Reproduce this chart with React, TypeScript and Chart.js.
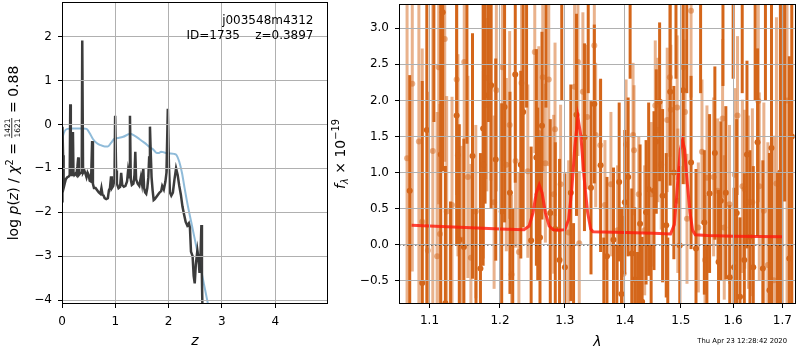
import React, { useEffect, useRef } from "react";
import { Chart, registerables } from "chart.js";
Chart.register(...registerables);

const FAMILY = "'DejaVu Sans', 'Liberation Sans', sans-serif";
const MINUS = "\u2212";

// ---------------- left panel: p(z) ----------------
const zGrid = [
  0.0, 0.008, 0.02, 0.03, 0.05, 0.07, 0.1, 0.13, 0.145, 0.155, 0.165, 0.19, 0.205, 0.215, 0.23, 0.25,
  0.27, 0.29, 0.305, 0.315, 0.335, 0.355, 0.37, 0.38, 0.395, 0.42, 0.44, 0.46, 0.48, 0.5, 0.52, 0.545,
  0.565, 0.58, 0.6, 0.63, 0.66, 0.69, 0.72, 0.74, 0.76, 0.78, 0.8, 0.83, 0.86, 0.88, 0.9, 0.92,
  0.935, 0.96, 0.985, 0.997, 1.015, 1.03, 1.06, 1.09, 1.11, 1.13, 1.16, 1.19, 1.22, 1.24, 1.26, 1.275,
  1.29, 1.31, 1.34, 1.36, 1.375, 1.39, 1.42, 1.45, 1.48, 1.5, 1.525, 1.54, 1.56, 1.58, 1.6, 1.62,
  1.635, 1.65, 1.665, 1.68, 1.7, 1.72, 1.74, 1.77, 1.8, 1.83, 1.86, 1.88, 1.91, 1.94, 1.96, 1.985,
  2.005, 2.025, 2.05, 2.08, 2.11, 2.14, 2.17, 2.2, 2.23, 2.26, 2.29, 2.32, 2.35, 2.38, 2.4, 2.42,
  2.45, 2.47, 2.49, 2.51, 2.54, 2.56, 2.58, 2.6, 2.615, 2.625, 2.64,
];
const logPz = [
  -1.75, -0.05, -0.7, -1.45, -1.35, -1.25, -1.2, -1.18, -1.15, 0.46, -1.15, -1.15, -0.17, -1.1, -1.15, -1.12,
  -1.15, -0.95, -0.75, -1.15, -1.12, -1.1, -1.1, 1.91, -1.1, -1.05, -1.12, -1.2, -1.1, -1.15, -1.28, -1.3,
  -0.38, -1.35, -1.45, -1.45, -1.5, -1.55, -1.58, -1.45, -1.6, -1.62, -1.68, -1.7, -1.68, -1.5, -1.45, -1.18,
  -1.45, -1.4, -1.25, 0.2, -1.05, -1.35, -1.45, -1.42, -1.1, -1.38, -1.42, -1.4, -1.3, -1.05, -1.2, 0.2,
  -1.25, -1.38, -1.35, -1.15, -0.62, -1.25, -1.35, -1.4, -1.2, -1.35, -1.0, -1.45, -1.55, -1.58, -1.45, -1.2,
  -0.75, -0.05, -0.65, -1.2, -1.5, -1.72, -1.7, -1.65, -1.6, -1.55, -1.52, -1.4, -1.48, -1.3, -1.1, 0.36,
  -0.9, -1.55, -1.62, -1.55, -1.25, -1.0, -1.15, -1.4, -1.6, -1.87, -2.05, -2.22, -2.3, -2.25, -2.35, -2.9,
  -3.0, -3.45, -3.62, -3.2, -2.87, -3.05, -3.38, -2.9, -2.29, -3.5, -4.6,
];
const zPrior = [
  0.0, 0.02, 0.05, 0.1, 0.2, 0.3, 0.4, 0.46, 0.52, 0.58, 0.65, 0.72, 0.8, 0.86, 0.92, 0.98,
  1.05, 1.15, 1.22, 1.28, 1.35, 1.45, 1.55, 1.65, 1.72, 1.78, 1.82, 1.86, 1.92, 2.0, 2.1, 2.15,
  2.2, 2.25, 2.3, 2.36, 2.42, 2.48, 2.54, 2.6, 2.66, 2.72, 2.78,
];
const logPrior = [
  -0.4, -0.25, -0.15, -0.1, -0.09, -0.09, -0.09, -0.1, -0.2, -0.33, -0.42, -0.47, -0.5, -0.5, -0.42, -0.33,
  -0.31, -0.28, -0.24, -0.21, -0.25, -0.33, -0.42, -0.52, -0.58, -0.65, -0.65, -0.62, -0.64, -0.66, -0.67, -0.7,
  -0.85, -1.1, -1.45, -1.85, -2.2, -2.55, -2.9, -3.25, -3.62, -3.98, -4.35,
];
const zTicks = [0, 1, 2, 3, 4];
const logPTicks = [-4, -3, -2, -1, 0, 1, 2];
const zRange = [0, 4.99];
const logPRange = [-4.09, 2.79];

// ---------------- right panel: spectrum ----------------
const lamDark = [
  1.0902, 1.0964, 1.1154, 1.1181, 1.1218, 1.1375, 1.1412, 1.1477, 1.16, 1.1714, 1.1753, 1.1781, 1.1869, 1.1937, 1.2025, 1.2068,
  1.2148, 1.2228, 1.2312, 1.2348, 1.247, 1.2551, 1.2572, 1.2607, 1.2638, 1.2768, 1.2847, 1.2915, 1.3001, 1.3096, 1.3188, 1.3318,
  1.3426, 1.3481, 1.3586, 1.3693, 1.3804, 1.3901, 1.3941, 1.3998, 1.4056, 1.4119, 1.4171, 1.4264, 1.43, 1.437, 1.4416, 1.4511,
  1.4552, 1.4612, 1.4666, 1.4732, 1.4804, 1.4871, 1.498, 1.5042, 1.519, 1.5283, 1.5441, 1.5541, 1.5643, 1.5714, 1.5759, 1.5856,
  1.5933, 1.6018, 1.607, 1.6136, 1.6222, 1.6275, 1.6335, 1.6402, 1.6489, 1.6597, 1.6733, 1.6775, 1.7148,
  1.0735, 1.106, 1.129, 1.152, 1.165, 1.183, 1.219, 1.24, 1.27, 1.295, 1.314, 1.338, 1.364, 1.386, 1.409, 1.422,
  1.446, 1.476, 1.491, 1.511, 1.537, 1.549, 1.58, 1.6, 1.618, 1.644, 1.665, 1.69, 1.696, 1.705, 1.72,
];
const fluxDark = [
  -0.53, 1.59, 1.25, 3.22, -0.81, 1.79, 0.07, -0.03, 1.23, -0.33, 1.61, 2.07, 2.21, 1.18, 0.46, 1.91,
  0.72, 2.36, 1.11, 1.84, 0.06, 1.21, 0.7, 0.1, 1.65, 0.44, 0.22, -0.21, -0.31, 0.72, 1.8, 1.49,
  0.79, 1.95, 1.1, -0.16, 0.07, 0.87, -0.68, 0.59, 0.94, -0.12, -0.48, 0.29, -0.79, 0.45, 0.77, 0.75,
  1.43, 1.98, 0.68, 0.27, 2.12, 1.0, -0.01, 2.14, 1.14, -0.05, 0.31, 0.71, 1.27, -0.24, 0.61, 0.72,
  -0.45, -0.31, 0.44, -0.72, -0.21, 1.25, 0.11, -0.31, 1.42, -0.33, -0.63, 1.34, -0.19,
  0.75, 3.9, -1.2, 3.7, -1.1, 3.6, -1.0, 3.6, 3.5, 3.5, -1.0, 3.5, -1.0, -1.1, 3.5, -1.0,
  -1.0, -1.0, 3.5, 3.5, 3.5, -1.0, 3.5, 3.5, 3.5, 3.5, 3.8, -1.2, 1.0, 3.5, 1.5,
];
const errDark = [
  2.8, 2.6, 2.4, 2.2, 1.9, 1.8, 1.6, 1.5, 1.7, 1.6, 1.9, 1.5, 1.7, 1.4, 1.5, 1.6,
  1.4, 1.5, 1.3, 1.6, 1.3, 1.5, 1.2, 1.4, 1.3, 1.3, 1.2, 1.4, 1.3, 1.5, 1.4, 1.3,
  1.2, 1.1, 1.2, 1.1, 1.0, 1.1, 1.2, 1.0, 1.1, 0.9, 1.0, 1.1, 0.9, 1.0, 1.2, 1.1,
  1.0, 1.1, 1.2, 1.0, 1.3, 1.2, 1.1, 1.3, 1.2, 1.1, 1.0, 1.1, 1.2, 1.0, 1.1, 1.2,
  1.0, 1.1, 1.3, 1.1, 1.2, 1.3, 1.2, 1.4, 1.3, 1.5, 1.9, 2.2, 2.8,
  1.6, 2.2, 1.8, 2.3, 1.6, 1.9, 1.5, 1.7, 1.6, 1.5, 1.3, 1.4, 1.1, 1.1, 1.2, 0.9,
  1.0, 1.1, 1.2, 1.4, 1.4, 1.0, 1.3, 1.2, 1.4, 1.5, 1.8, 2.2, 3.0, 2.9, 3.0,
];
const lamLight = [
  1.0769, 1.0857, 1.0902, 1.0978, 1.1045, 1.1104, 1.1126, 1.1144, 1.1209, 1.1236, 1.131, 1.1375, 1.1393, 1.144, 1.1482, 1.1534,
  1.1577, 1.1647, 1.1757, 1.1791, 1.1806, 1.1864, 1.1913, 1.1946, 1.2035, 1.2094, 1.2144, 1.2173, 1.2233, 1.2283, 1.2323, 1.2419,
  1.2526, 1.2588, 1.265, 1.2691, 1.2744, 1.2822, 1.2843, 1.2932, 1.3061, 1.3157, 1.3211, 1.3233, 1.3292, 1.3362, 1.3481, 1.3504,
  1.3581, 1.3659, 1.376, 1.3872, 1.3976, 1.402, 1.4141, 1.4158, 1.4241, 1.4345, 1.4463, 1.4534, 1.4582, 1.4641, 1.475, 1.4798,
  1.4816, 1.4932, 1.4944, 1.5047, 1.5078, 1.5114, 1.519, 1.5327, 1.5396, 1.5454, 1.5491, 1.5619, 1.5696, 1.5793, 1.5825, 1.5928,
  1.6033, 1.6086, 1.6184, 1.623, 1.6304, 1.6384, 1.6504, 1.6524, 1.6618, 1.67, 1.6823, 1.6878,
  1.07, 1.7, 1.71,
];
const fluxLight = [
  2.23, 1.43, 0.32, -0.08, 1.3, -0.16, 2.46, 0.15, 2.85, 0.46, 0.55, 2.29, 1.24, 0.07, 2.53, 0.94,
  -0.18, 0.46, 1.11, 2.31, 1.94, 2.19, 0.59, 2.14, 2.46, 1.11, 1.66, -0.41, 1.16, -0.1, 2.24, 1.02,
  2.67, 1.55, 2.32, 1.13, 2.29, 0.7, 1.6, 0.84, 0.17, 2.19, 2.53, 0.02, 2.12, 1.77, 2.76, 1.52,
  1.38, 0.55, 0.84, 0.2, -0.4, 1.39, 1.52, 1.31, 0.7, 0.2, 0.7, 1.93, 1.59, 1.11, 1.73, 2.32,
  1.87, 1.9, 0.61, 2.46, 1.84, 0.36, 3.24, 0.24, 1.29, -0.21, 0.93, 0.94, 0.75, 1.75, 0.24, 0.56,
  0.97, 1.79, 0.81, 0.77, 0.59, 0.59, 1.99, 0.81, 0.47, -0.28, -0.49, 0.85,
  1.2, 1.5, 2.0,
];
const errLight = [
  2.6, 2.5, 2.4, 2.2, 2.2, 2.0, 1.9, 1.8, 1.7, 1.6, 1.5, 1.6, 1.4, 1.3, 1.5, 1.4,
  1.3, 1.2, 1.3, 1.4, 1.2, 1.3, 1.2, 1.4, 1.3, 1.2, 1.3, 1.1, 1.2, 1.1, 1.3, 1.2,
  1.4, 1.2, 1.3, 1.1, 1.2, 1.1, 1.2, 1.1, 1.0, 1.2, 1.3, 1.0, 1.1, 1.0, 1.2, 1.0,
  0.9, 0.9, 1.0, 0.9, 0.8, 0.9, 1.0, 0.9, 0.8, 0.9, 1.0, 0.9, 1.0, 0.9, 1.0, 1.1,
  0.9, 1.0, 1.0, 1.1, 1.0, 0.9, 1.2, 0.9, 1.0, 0.9, 1.0, 1.1, 1.0, 1.1, 1.0, 1.1,
  1.2, 1.1, 1.2, 1.1, 1.2, 1.3, 1.4, 1.3, 1.5, 1.7, 2.0, 2.3,
  2.6, 3.0, 3.0,
];
const lamModel = [
  1.0759, 1.1, 1.15, 1.2, 1.236, 1.244, 1.25, 1.255, 1.2595, 1.264, 1.269, 1.275, 1.281, 1.29, 1.3, 1.306,
  1.311, 1.316, 1.321, 1.326, 1.331, 1.337, 1.342, 1.346, 1.4, 1.45, 1.481, 1.488, 1.494, 1.499, 1.503, 1.507,
  1.512, 1.517, 1.522, 1.527, 1.55, 1.6, 1.65, 1.7015,
];
const fluxModel = [
  0.27, 0.26, 0.24, 0.22, 0.21, 0.26, 0.45, 0.72, 0.83, 0.72, 0.45, 0.26, 0.21, 0.2, 0.21, 0.35,
  0.75, 1.35, 1.77, 1.5, 0.95, 0.45, 0.22, 0.18, 0.17, 0.16, 0.15, 0.28, 0.85, 1.32, 1.45, 1.32,
  0.85, 0.45, 0.2, 0.14, 0.13, 0.12, 0.115, 0.11,
];
const lamTicks = [1.1, 1.2, 1.3, 1.4, 1.5, 1.6, 1.7];
const fluxTicks = [-0.5, 0.0, 0.5, 1.0, 1.5, 2.0, 2.5, 3.0];
const lamRange = [1.0594, 1.729];
const fluxRange = [-0.82, 3.335];

const fieldName = "j003548m4312";
const idLine = "ID=1735    z=0.3897";
const timestamp = "Thu Apr 23 12:28:42 2020";

const DARK = "rgb(212,102,26)";
const LIGHT = "rgba(212,102,26,0.5)";

const fmt = (v: number, d: number) => (v < 0 ? MINUS : "") + Math.abs(v).toFixed(d);
const font = (style: string, size: number) => `${style} ${size}px ${FAMILY}`;

type Piece = { t?: string; f: string; dy?: number; frac?: [string, string] };

function drawRich(ctx: CanvasRenderingContext2D, pieces: Piece[], cx: number, cy: number, rot: number) {
  ctx.save();
  ctx.translate(cx, cy);
  ctx.rotate(rot);
  ctx.fillStyle = "#000";
  ctx.textBaseline = "alphabetic";
  const widths = pieces.map((p) => {
    ctx.font = p.f;
    if (p.frac) return Math.max(ctx.measureText(p.frac[0]).width, ctx.measureText(p.frac[1]).width) + 2;
    return ctx.measureText(p.t || "").width;
  });
  const total = widths.reduce((a, b) => a + b, 0);
  let x = -total / 2;
  pieces.forEach((p, i) => {
    ctx.font = p.f;
    const w = widths[i];
    if (p.frac) {
      ctx.textAlign = "center";
      ctx.fillText(p.frac[0], x + w / 2, -8.3);
      ctx.fillText(p.frac[1], x + w / 2, 1.5);
      ctx.fillRect(x + 0.5, -6.9, w - 1, 0.8);
      ctx.textAlign = "left";
    } else {
      ctx.textAlign = "left";
      ctx.fillText(p.t || "", x, p.dy || 0);
    }
    x += w;
  });
  ctx.restore();
}

function drawFrame(chart: any) {
  const { ctx, chartArea: a } = chart;
  ctx.save();
  ctx.strokeStyle = "#000";
  ctx.lineWidth = 1;
  ctx.strokeRect(a.left + 0.5, a.top + 0.5, a.right - a.left - 1, a.bottom - a.top - 1);
  ctx.restore();
}

const noPad = (s: any) => {
  s.paddingTop = 0;
  s.paddingBottom = 0;
  s.paddingLeft = 0;
  s.paddingRight = 0;
};

const tickFont = { family: FAMILY, size: 12 };
const gridOpts = { color: "#b0b0b0", lineWidth: 1, tickLength: 4, tickColor: "#000", drawTicks: true, z: 1 };

const leftDecor = {
  id: "leftDecor",
  afterDraw(chart: any) {
    drawFrame(chart);
    const ctx = chart.ctx as CanvasRenderingContext2D;
    ctx.save();
    ctx.fillStyle = "#000";
    ctx.font = font("normal", 12);
    ctx.textAlign = "right";
    ctx.textBaseline = "alphabetic";
    ctx.fillText(fieldName, 313.5, 23.5);
    ctx.fillText(idLine, 313.5, 38.5);
    ctx.font = font("italic", 14);
    ctx.textAlign = "center";
    const a = chart.chartArea;
    ctx.fillText("z", (a.left + a.right) / 2, 345);
    ctx.restore();
    const n = font("normal", 14);
    const it = font("italic", 14);
    drawRich(
      ctx,
      [
        { t: "log ", f: n },
        { t: "p", f: it },
        { t: "(", f: n },
        { t: "z", f: it },
        { t: ") / ", f: n },
        { t: "\u03c7", f: it },
        { t: "2", f: font("normal", 9.8), dy: -5.5 },
        { t: " = ", f: n },
        { frac: ["1421", "1621"], f: font("normal", 7.5) },
        { t: " = 0.88", f: n },
      ],
      18.3,
      (a.top + a.bottom) / 2,
      -Math.PI / 2
    );
  },
};

const rightDecor = {
  id: "rightDecor",
  beforeDatasetDraw(chart: any, args: any) {
    const ds = chart.data.datasets[args.index];
    if (!ds.errors) return;
    const { ctx, chartArea: a, scales } = chart;
    const xs = scales.x;
    const ys = scales.y;
    ctx.save();
    ctx.beginPath();
    ctx.rect(a.left, a.top, a.right - a.left, a.bottom - a.top);
    ctx.clip();
    ctx.strokeStyle = ds.errColor;
    ctx.lineWidth = 3;
    ds.data.forEach((p: any, j: number) => {
      const e = ds.errors[j];
      const px = xs.getPixelForValue(p.x);
      ctx.beginPath();
      ctx.moveTo(px, ys.getPixelForValue(p.y - e));
      ctx.lineTo(px, ys.getPixelForValue(p.y + e));
      ctx.stroke();
    });
    ctx.restore();
  },
  afterDatasetsDraw(chart: any) {
    const { ctx, chartArea: a, scales } = chart;
    const y0 = scales.y.getPixelForValue(0);
    ctx.save();
    ctx.strokeStyle = "#000";
    ctx.lineWidth = 1.5;
    ctx.setLineDash([1.5, 2.5]);
    ctx.beginPath();
    ctx.moveTo(a.left, y0);
    ctx.lineTo(a.right, y0);
    ctx.stroke();
    ctx.restore();
  },
  afterDraw(chart: any) {
    drawFrame(chart);
    const ctx = chart.ctx as CanvasRenderingContext2D;
    const a = chart.chartArea;
    ctx.save();
    ctx.fillStyle = "#000";
    ctx.font = font("italic", 14);
    ctx.textAlign = "center";
    ctx.textBaseline = "alphabetic";
    ctx.fillText("\u03bb", (a.left + a.right) / 2, 345.5);
    ctx.font = font("normal", 6.8);
    ctx.textAlign = "right";
    ctx.fillText(timestamp, 459, 343);
    ctx.restore();
    drawRich(
      ctx,
      [
        { t: "f", f: font("italic", 14) },
        { t: "\u03bb", f: font("italic", 9.8), dy: 3 },
        { t: " \u00d7 10", f: font("normal", 14) },
        { t: MINUS + "19", f: font("normal", 9.8), dy: -6 },
      ],
      16.5,
      (a.top + a.bottom) / 2,
      -Math.PI / 2
    );
  },
};

export default function App() {
  const leftRef = useRef<HTMLCanvasElement>(null);
  const rightRef = useRef<HTMLCanvasElement>(null);

  useEffect(() => {
    const left = new Chart(leftRef.current!, {
      type: "line",
      data: {
        datasets: [
          {
            data: zGrid.map((z, i) => ({ x: z, y: logPz[i] })),
            borderColor: "rgba(50,50,50,0.95)",
            borderWidth: 2.5,
            pointRadius: 0,
            tension: 0,
          },
          {
            data: zPrior.map((z, i) => ({ x: z, y: logPrior[i] })),
            borderColor: "rgba(31,119,180,0.5)",
            borderWidth: 2,
            pointRadius: 0,
            cubicInterpolationMode: "monotone",
          },
        ],
      } as any,
      options: {
        animation: false,
        responsive: false,
        maintainAspectRatio: false,
        devicePixelRatio: 1,
        layout: { padding: { left: 0, right: 12, top: 2, bottom: 0 } },
        plugins: { legend: { display: false }, tooltip: { enabled: false } },
        scales: {
          x: {
            type: "linear",
            min: zRange[0],
            max: zRange[1],
            bounds: "data",
            afterBuildTicks: (s: any) => {
              s.ticks = zTicks.map((v) => ({ value: v }));
            },
            afterFit: (s: any) => {
              s.height = 46;
              noPad(s);
            },
            grid: gridOpts,
            border: { display: false },
            ticks: { font: tickFont, color: "#000", padding: 7, maxRotation: 0, autoSkip: false, callback: (v: any) => fmt(Number(v), 0) },
          },
          y: {
            type: "linear",
            min: logPRange[0],
            max: logPRange[1],
            bounds: "data",
            afterBuildTicks: (s: any) => {
              s.ticks = logPTicks.map((v) => ({ value: v }));
            },
            afterFit: (s: any) => {
              s.width = 62;
              noPad(s);
            },
            grid: gridOpts,
            border: { display: false },
            ticks: { font: tickFont, color: "#000", padding: 6, autoSkip: false, callback: (v: any) => fmt(Number(v), 0) },
          },
        },
      } as any,
      plugins: [leftDecor],
    });

    const right = new Chart(rightRef.current!, {
      type: "scatter",
      data: {
        datasets: [
          {
            data: lamModel.map((l, i) => ({ x: l, y: fluxModel[i] })),
            showLine: true,
            borderColor: "rgba(255,25,10,0.8)",
            borderWidth: 3,
            pointRadius: 0,
            order: 0,
          },
          {
            data: lamLight.map((l, i) => ({ x: l, y: fluxLight[i] })),
            errors: errLight,
            errColor: LIGHT,
            backgroundColor: LIGHT,
            borderWidth: 0,
            pointRadius: 3,
            order: 1,
          },
          {
            data: lamDark.map((l, i) => ({ x: l, y: fluxDark[i] })),
            errors: errDark,
            errColor: DARK,
            backgroundColor: DARK,
            borderWidth: 0,
            pointRadius: 3,
            order: 2,
          },
        ],
      } as any,
      options: {
        animation: false,
        responsive: false,
        maintainAspectRatio: false,
        devicePixelRatio: 1,
        layout: { padding: { left: 0, right: 1, top: 1, bottom: 0 } },
        plugins: { legend: { display: false }, tooltip: { enabled: false } },
        scales: {
          x: {
            type: "logarithmic",
            min: lamRange[0],
            max: lamRange[1],
            bounds: "data",
            afterBuildTicks: (s: any) => {
              s.ticks = lamTicks.map((v) => ({ value: v }));
            },
            afterFit: (s: any) => {
              s.height = 46;
              noPad(s);
            },
            grid: gridOpts,
            border: { display: false },
            ticks: { font: tickFont, color: "#000", padding: 6, maxRotation: 0, autoSkip: false, callback: (v: any) => fmt(Number(v), 1) },
          },
          y: {
            type: "linear",
            min: fluxRange[0],
            max: fluxRange[1],
            bounds: "data",
            afterBuildTicks: (s: any) => {
              s.ticks = fluxTicks.map((v) => ({ value: v }));
            },
            afterFit: (s: any) => {
              s.width = 71;
              noPad(s);
            },
            grid: gridOpts,
            border: { display: false },
            ticks: { font: tickFont, color: "#000", padding: 6, autoSkip: false, callback: (v: any) => fmt(Number(v), 1) },
          },
        },
      } as any,
      plugins: [rightDecor],
    });

    return () => {
      left.destroy();
      right.destroy();
    };
  }, []);

  return (
    <div style={{ position: "fixed", left: 0, top: 0, width: 800, height: 350, background: "#fff" }}>
      <canvas ref={leftRef} width={340} height={350} style={{ position: "absolute", left: 0, top: 0, width: 340, height: 350 }} />
      <canvas ref={rightRef} width={472} height={350} style={{ position: "absolute", left: 328, top: 0, width: 472, height: 350 }} />
    </div>
  );
}
